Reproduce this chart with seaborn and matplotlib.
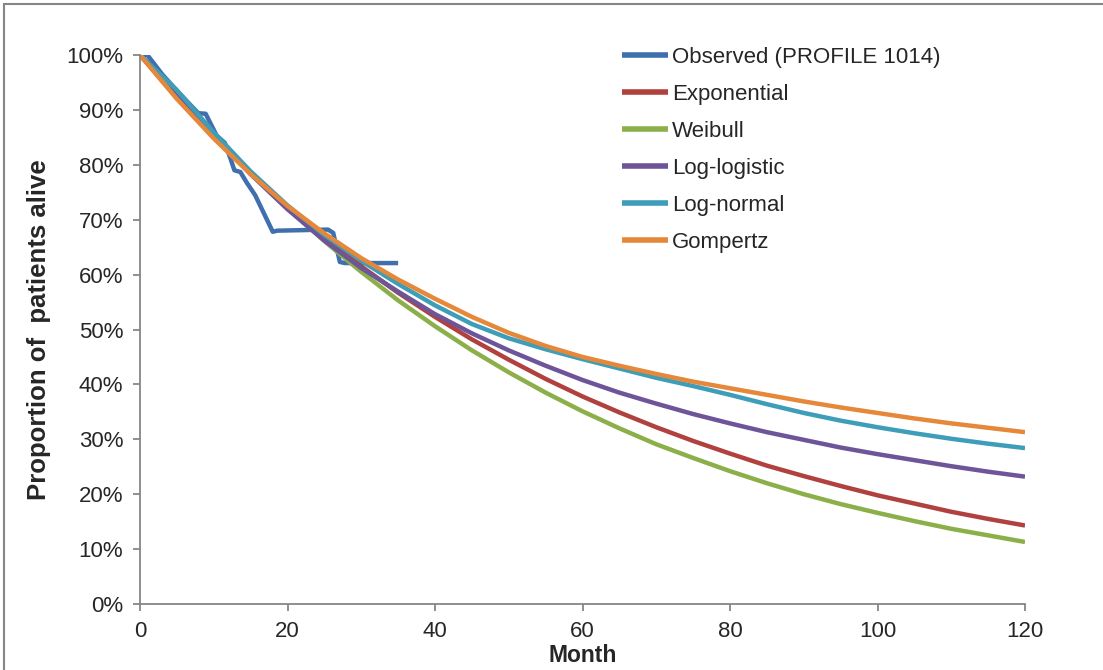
import matplotlib
matplotlib.use("Agg")
import matplotlib.pyplot as plt
from matplotlib.lines import Line2D
from matplotlib.ticker import FuncFormatter
import pandas as pd
import seaborn as sns

# Kaplan-Meier observed survival (month, % alive)
observed_month = [0, 1.0, 3, 5, 7.9, 8.9, 10.4, 11.5, 12.3, 12.8, 13.6, 14.5,
                  15.6, 16.5, 18.0, 18.6, 25.5, 26.2, 27.1, 27.8, 35]
observed_pct = [100, 100, 96.5, 93.5, 89.4, 89.3, 85.3, 84.0, 81.0, 79.0, 78.7,
                76.7, 74.5, 72.0, 67.8, 68.0, 68.2, 67.6, 62.3, 62.1, 62.1]

# Parametric extrapolations, % alive every 5 months from 0 to 120
model_month = list(range(0, 125, 5))
exponential = [100, 92.2, 85.0, 78.4, 72.3, 66.7, 61.5, 56.7, 52.3, 48.2, 44.5,
               41.0, 37.8, 34.9, 32.2, 29.7, 27.4, 25.2, 23.3, 21.5, 19.8, 18.3,
               16.8, 15.5, 14.3]
weibull = [100, 92.7, 85.5, 78.5, 72.1, 66.1, 60.5, 55.3, 50.6, 46.2, 42.2,
           38.5, 35.1, 32.0, 29.1, 26.6, 24.2, 22.0, 20.0, 18.2, 16.6, 15.1,
           13.7, 12.5, 11.3]
log_logistic = [100, 93.1, 85.4, 78.3, 71.9, 66.2, 61.2, 56.9, 52.8, 49.3, 46.2,
                43.4, 40.8, 38.5, 36.5, 34.6, 32.9, 31.3, 29.9, 28.5, 27.3, 26.2,
                25.1, 24.1, 23.2]
log_normal = [100, 93.6, 85.9, 78.8, 72.6, 67.2, 62.5, 58.3, 54.4, 51.0, 48.4,
              46.4, 44.6, 42.9, 41.2, 39.7, 38.1, 36.4, 34.8, 33.4, 32.2, 31.1,
              30.1, 29.2, 28.4]
gompertz = [100, 92.0, 84.8, 78.3, 72.5, 67.5, 63.0, 59.1, 55.6, 52.3, 49.4,
            47.0, 45.0, 43.4, 41.9, 40.5, 39.3, 38.1, 36.9, 35.8, 34.8, 33.8,
            32.9, 32.1, 31.3]

series_names = ["Observed (PROFILE 1014)", "Exponential", "Weibull",
                "Log-logistic", "Log-normal", "Gompertz"]
series_colors = ["#3F70AD", "#B0413E", "#8BAF49", "#6E5499", "#3E9DB8", "#E5883A"]

x_ticks = [0, 20, 40, 60, 80, 100, 120]
y_ticks = [0, 10, 20, 30, 40, 50, 60, 70, 80, 90, 100]

sns.set_theme(style="white")
plt.rcParams["font.family"] = ["Liberation Sans", "DejaVu Sans"]

fig = plt.figure(figsize=(11.03, 6.70), dpi=100)
W, H = 1103, 670
ax = fig.add_axes([140 / W, (H - 604) / H, (1025 - 140) / W, (604 - 55) / H])

frames = [pd.DataFrame({"month": observed_month, "pct": observed_pct})]
for vals in [exponential, weibull, log_logistic, log_normal, gompertz]:
    frames.append(pd.DataFrame({"month": model_month, "pct": vals}))

for name, color, df in zip(series_names, series_colors, frames):
    sns.lineplot(data=df, x="month", y="pct", color=color, linewidth=3.2,
                 sort=False, estimator=None, label=name, ax=ax,
                 solid_capstyle="butt", solid_joinstyle="round")

ax.set_xlim(0, 120)
ax.set_ylim(0, 100)
ax.set_xticks(x_ticks)
ax.set_yticks(y_ticks)
ax.yaxis.set_major_formatter(FuncFormatter(lambda v, p: f"{v:.0f}%"))

spine_color = "#868686"
for side in ["top", "right"]:
    ax.spines[side].set_visible(False)
for side in ["left", "bottom"]:
    ax.spines[side].set_color(spine_color)
    ax.spines[side].set_linewidth(1.3)

ax.tick_params(axis="y", which="major", direction="out", length=5, width=1.3,
               color=spine_color, labelsize=16, pad=7, left=True)
ax.tick_params(axis="x", which="major", direction="out", length=5, width=1.3,
               color=spine_color, labelsize=16, pad=7, bottom=True)

ax.set_xlabel("Month", fontsize=16.5, fontweight="bold", labelpad=2)
ax.set_ylabel("Proportion of  patients alive", fontsize=18.5, fontweight="bold",
              labelpad=11)

leg = ax.legend(loc="upper left", bbox_to_anchor=(622 / W, 1 - 47 / H),
                bbox_transform=fig.transFigure, frameon=False, fontsize=16,
                handlelength=2.05, handletextpad=0.2, labelspacing=0.72,
                borderpad=0, borderaxespad=0)
for line in leg.get_lines():
    line.set_linewidth(4)

# outer chart frame (top and left edges)
fig.add_artist(Line2D([4 / W, 4 / W], [0, 1 - 4 / H], transform=fig.transFigure,
                      color=spine_color, linewidth=1.5))
fig.add_artist(Line2D([4 / W, 1], [1 - 4 / H, 1 - 4 / H], transform=fig.transFigure,
                      color=spine_color, linewidth=1.5))

fig.savefig("out.png", dpi=100)
